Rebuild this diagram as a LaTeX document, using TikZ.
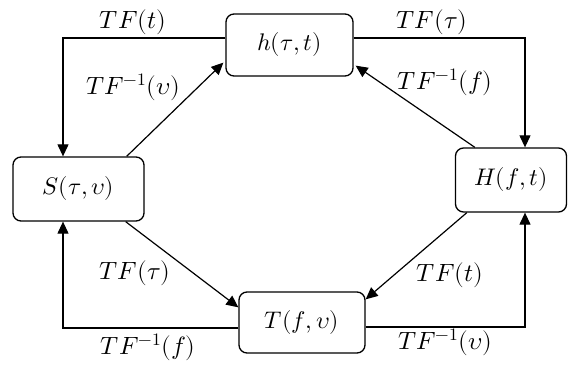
\documentclass[tikz,border=0pt]{standalone}
\usepackage{unicode-math}
\usetikzlibrary{arrows.meta}
\begin{document}
\begin{tikzpicture}[x=1pt,y=-1pt,
  box/.style={draw,line width=1.3pt,rounded corners=8pt,inner sep=0pt,font=\fontsize{24}{28}\selectfont},
  arr/.style={line width=1.2pt,-{Triangle[length=12pt,width=11pt]}},
  lab/.style={font=\fontsize{25}{28}\selectfont,inner sep=0pt}]
\useasboundingbox (0,0) rectangle (574,366);
\node[box,minimum width=131pt,minimum height=64pt] (S) at (78.5,189) {$S(\tau,\upsilon)$};
\node[box,minimum width=127pt,minimum height=62pt] (h) at (289.5,45) {$h(\tau,t)$};
\node[box,minimum width=111pt,minimum height=64pt] (H) at (511,180) {$H(f,t)$};
\node[box,minimum width=126pt,minimum height=61pt] (T) at (302,322.5) {$T(f,\upsilon)$};
\coordinate (c1) at (63,38);
\coordinate (c2) at (525,38);
\coordinate (c3) at (63,328);
\coordinate (c4) at (525,327);
\draw[arr] (h.west |- c1) -- (c1) -- (c1 |- S.north);
\draw[arr] ([xshift=-18pt]S.north east) -- ([yshift=14pt,xshift=-2pt]h.south west);
\draw[arr] (h.east |- c2) -- (c2) -- (c2 |- H.north);
\draw[arr] ([xshift=20pt]H.north west) -- ([yshift=11pt,xshift=2pt]h.south east);
\draw[arr] ([xshift=-19pt]S.south east) -- ([yshift=-16pt]T.north west);
\draw[arr] (T.west |- c3) -- (c3) -- (c3 |- S.south);
\draw[arr] ([xshift=12pt]H.south west) -- ([yshift=-8pt]T.north east);
\draw[arr] (T.east |- c4) -- (c4) -- (c4 |- H.south);
\node[lab] (l1) at (133,22) {$TF(t)$};
\node[lab] (l2) at (133,87) {$TF^{-1}(\upsilon)$};
\node[lab] (l3) at (432,22) {$TF(\tau)$};
\node[lab] (l4) at (445,82) {$TF^{-1}(f)$};
\node[lab] (l5) at (135,273) {$TF(\tau)$};
\node[lab] (l6) at (148,347) {$TF^{-1}(f)$};
\node[lab] (l7) at (450,275) {$TF(t)$};
\node[lab] (l8) at (445,342) {$TF^{-1}(\upsilon)$};
\end{tikzpicture}
\end{document}
